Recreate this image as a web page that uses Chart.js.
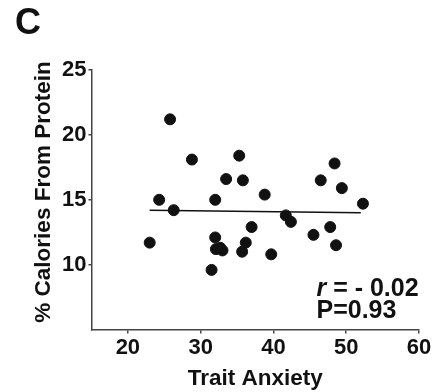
<!DOCTYPE html>
<html>
<head>
<meta charset="utf-8">
<script src="https://cdn.jsdelivr.net/npm/chart.js@4/dist/chart.umd.min.js"></script>
<style>
  html, body { margin: 0; padding: 0; background: #fff; }
  #wrap { position: relative; width: 448px; height: 392px; }
</style>
</head>
<body>
<div id="wrap"><canvas id="scatterChart"></canvas></div>
<script>
// values
const anxiety = [23.0, 24.3, 25.8, 26.3, 28.8, 31.5, 32.0, 32.0, 32.1, 32.7, 33.0, 33.5, 35.3, 35.8, 35.7, 36.2, 37.0, 38.8, 39.7, 41.7, 42.4, 45.5, 46.5, 47.8, 48.4, 48.6, 49.4, 52.3];
const protein = [11.7, 15.0, 21.2, 14.2, 18.1, 9.6, 15.0, 12.1, 11.2, 11.3, 11.1, 16.6, 18.4, 16.5, 11.0, 11.7, 12.9, 15.4, 10.8, 13.8, 13.3, 12.3, 16.5, 12.9, 17.8, 11.5, 15.9, 14.7];
const fitX = [23, 52];
const fitY = [14.2, 14.0];
const xTicks = [20, 30, 40, 50, 60];
const yTicks = [10, 15, 20, 25];
const xTitle = 'Trait Anxiety';
const yTitle = '% Calories From Protein';
const rText = '= - 0.02';
const pText = 'P=0.93';
const panelLabel = 'C';

const FONT = "'Liberation Sans', Arial, sans-serif";
const INK = '#111';
const AXIS = '#444';

// panel letter, y title (sits a bit above centre in the original) and the r / P note
const annotations = {
    id: 'annotations',
    afterDraw(chart) {
        const c = chart.ctx;
        const area = chart.chartArea;
        c.save();
        c.fillStyle = INK;
        c.textBaseline = 'alphabetic';
        c.textAlign = 'left';
        c.font = 'bold 36px ' + FONT;
        c.fillText(panelLabel, 15, 34);

        c.save();
        c.translate(area.left - 48, area.top + 122);
        c.rotate(-Math.PI / 2);
        c.textAlign = 'center';
        c.textBaseline = 'middle';
        c.font = 'bold 22.5px ' + FONT;
        c.fillText(yTitle, 0, 0);
        c.restore();

        const x0 = area.left + 225;
        c.font = 'italic bold 25px ' + FONT;
        c.fillText('r', x0, area.bottom - 34);
        const rw = c.measureText('r ').width;
        c.font = 'bold 25px ' + FONT;
        c.fillText(rText, x0 + rw, area.bottom - 34);
        c.fillText(pText, x0, area.bottom - 12);
        c.restore();
    }
};

function axisFont(size) {
    return { family: FONT, size: size, weight: 'bold' };
}

const ctx = document.getElementById('scatterChart').getContext('2d');
new Chart(ctx, {
    type: 'scatter',
    data: {
        datasets: [
            {
                label: 'Subjects',
                data: anxiety.map((x, i) => ({ x: x, y: protein[i] })),
                backgroundColor: INK,
                borderColor: INK,
                pointRadius: 5.5,
                pointHoverRadius: 5.5
            },
            {
                type: 'line',
                label: 'Fit',
                data: fitX.map((x, i) => ({ x: x, y: fitY[i] })),
                borderColor: INK,
                borderWidth: 1.5,
                pointRadius: 0,
                fill: false
            }
        ]
    },
    options: {
        responsive: true,
        maintainAspectRatio: false,
        animation: false,
        layout: { padding: { left: 60, top: 70, right: 29, bottom: 0 } },
        plugins: {
            legend: { display: false },
            tooltip: { enabled: false }
        },
        scales: {
            x: {
                type: 'linear',
                min: 15,
                max: 60,
                afterBuildTicks: axis => { axis.ticks = xTicks.map(v => ({ value: v })); },
                border: { display: true, color: AXIS, width: 1.5 },
                grid: { drawOnChartArea: false, drawTicks: true, tickLength: 4, color: AXIS, lineWidth: 1.5 },
                ticks: { color: INK, font: axisFont(22), padding: 1, autoSkip: false, maxRotation: 0 },
                title: { display: true, text: xTitle, color: INK, font: axisFont(22.5), padding: { top: 3, bottom: 0 } }
            },
            y: {
                type: 'linear',
                min: 5,
                max: 25,
                afterBuildTicks: axis => { axis.ticks = yTicks.map(v => ({ value: v })); },
                border: { display: true, color: AXIS, width: 1.5 },
                grid: { drawOnChartArea: false, drawTicks: true, tickLength: 3, color: AXIS, lineWidth: 1.5 },
                ticks: { color: INK, font: axisFont(22), padding: 2, autoSkip: false }
            }
        }
    },
    plugins: [annotations]
});
</script>
</body>
</html>
